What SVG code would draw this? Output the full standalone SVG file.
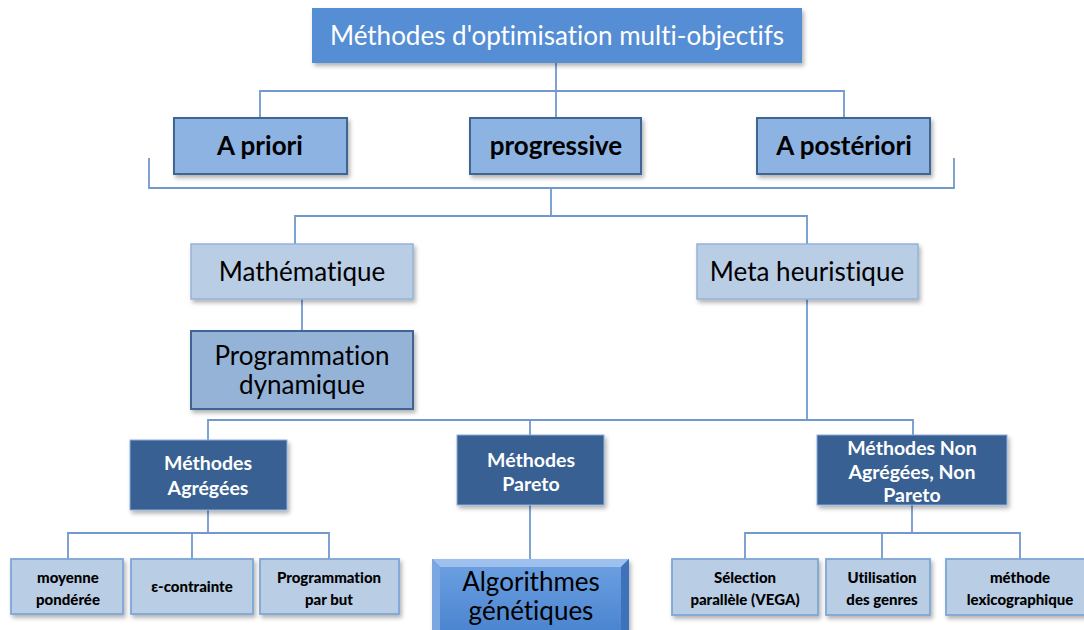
<svg xmlns="http://www.w3.org/2000/svg" width="1084" height="630" viewBox="0 0 1084 630">
<style>
  text { font-family: "Lato", "Liberation Sans", sans-serif; text-anchor: middle; font-variant-ligatures: none; }
  .conn { fill: none; stroke: #7199CD; stroke-width: 1.8; }
  .top { fill: #558ED5; filter: url(#sh); }
  .lvl2 { fill: #8DB3E2; stroke: #3F6595; stroke-width: 2; filter: url(#sh); }
  .light { fill: #B9CDE5; stroke: #95B3D7; stroke-width: 1.5; filter: url(#sh); }
  .prog { fill: #95B3D7; stroke: #3F6595; stroke-width: 2; filter: url(#sh); }
  .dark { fill: #376092; stroke: #8EAEDB; stroke-width: 1; filter: url(#sh); }
  .leaf { fill: #B9CDE5; stroke: #7EA6D8; stroke-width: 1.8; filter: url(#sh); }
  .t-title { fill: #FFFFFF; font-size: 26px; }
  .t-l2 { fill: #000000; font-size: 26px; font-weight: bold; }
  .t-m { fill: #000000; font-size: 26px; }
  .t-w { fill: #FFFFFF; font-size: 19.5px; font-weight: bold; }
  .t-s { fill: #000000; font-size: 15px; font-weight: 900; }
  .t-ag { fill: #000000; font-size: 26px; }
</style>
<defs>
  <filter id="sh" x="-10%" y="-20%" width="125%" height="150%">
    <feDropShadow dx="2" dy="3" stdDeviation="2" flood-color="#000" flood-opacity="0.3"/>
  </filter>
  <linearGradient id="agGrad" x1="0" y1="0" x2="0" y2="1">
    <stop offset="0" stop-color="#6A9EE0"/>
    <stop offset="1" stop-color="#4A84CF"/>
  </linearGradient>
</defs>
<rect width="1084" height="630" fill="#FFFFFF"/>

<g id="connectors">
  <path class="conn" d="M556,63 V118"/>
  <path class="conn" d="M260,118 V91 H844 V118"/>
  <path class="conn" d="M149,158 V188 H954 V158"/>
  <path class="conn" d="M551,188 V216"/>
  <path class="conn" d="M295,244 V216 H807 V244"/>
  <path class="conn" d="M302,299 V331"/>
  <path class="conn" d="M807,299 V420"/>
  <path class="conn" d="M208,440 V420 H913 V435"/>
  <path class="conn" d="M530,420 V435"/>
  <path class="conn" d="M530,505 V560"/>
  <path class="conn" d="M208,510 V533"/>
  <path class="conn" d="M68,559 V533 H329 V559"/>
  <path class="conn" d="M192,533 V559"/>
  <path class="conn" d="M912,505 V533"/>
  <path class="conn" d="M745,559 V533 H1020 V559"/>
  <path class="conn" d="M882,533 V559"/>
</g>

<g id="n-root">
  <rect class="top" x="312" y="8" width="490" height="55"/>
  <text class="t-title" x="557" y="45">Méthodes d'optimisation multi-objectifs</text>
</g>
<g id="n-apriori">
  <rect class="lvl2" x="174" y="118" width="173" height="56"/>
  <text class="t-l2" x="260" y="155">A priori</text>
</g>
<g id="n-progressive">
  <rect class="lvl2" x="470" y="118" width="171" height="56"/>
  <text class="t-l2" x="556" y="155">progressive</text>
</g>
<g id="n-aposteriori">
  <rect class="lvl2" x="757" y="118" width="173" height="56"/>
  <text class="t-l2" x="844" y="155">A postériori</text>
</g>
<g id="n-math">
  <rect class="light" x="191" y="244" width="222" height="55"/>
  <text class="t-m" x="302" y="281">Mathématique</text>
</g>
<g id="n-meta">
  <rect class="light" x="697" y="244" width="221" height="55"/>
  <text class="t-m" x="807" y="281">Meta heuristique</text>
</g>
<g id="n-progdyn">
  <rect class="prog" x="191" y="331" width="222" height="78"/>
  <text class="t-m" x="302" y="365">Programmation</text>
  <text class="t-m" x="302" y="394">dynamique</text>
</g>
<g id="n-agg">
  <rect class="dark" x="130" y="440" width="157" height="70"/>
  <text class="t-w" x="208" y="470">Méthodes</text>
  <text class="t-w" x="208" y="495">Agrégées</text>
</g>
<g id="n-pareto">
  <rect class="dark" x="457" y="435" width="147" height="70"/>
  <text class="t-w" x="531" y="467">Méthodes</text>
  <text class="t-w" x="531" y="491">Pareto</text>
</g>
<g id="n-nonagg">
  <rect class="dark" x="817" y="435" width="190" height="70"/>
  <text class="t-w" x="912" y="455">Méthodes Non</text>
  <text class="t-w" x="912" y="479">Agrégées, Non</text>
  <text class="t-w" x="912" y="502">Pareto</text>
</g>
<g id="n-ag">
  <rect x="432" y="559" width="197" height="75" fill="#4F86D0" filter="url(#sh)"/>
  <polygon points="432,559 629,559 621,567 440,567" fill="#9DC0EE"/>
  <polygon points="432,559 440,567 440,634 432,634" fill="#7AA6E2"/>
  <polygon points="629,559 621,567 621,634 629,634" fill="#3E72BA"/>
  <rect x="440" y="567" width="181" height="67" fill="url(#agGrad)"/>
  <text class="t-ag" x="531" y="591">Algorithmes</text>
  <text class="t-ag" x="531" y="620">génétiques</text>
</g>
<g id="n-moyenne">
  <rect class="leaf" x="11" y="559" width="112" height="55"/>
  <text class="t-s" x="68" y="583">moyenne</text>
  <text class="t-s" x="68" y="605">pondérée</text>
</g>
<g id="n-epsilon">
  <rect class="leaf" x="131" y="559" width="122" height="55"/>
  <text class="t-s" x="192" y="592">ε-contrainte</text>
</g>
<g id="n-progbut">
  <rect class="leaf" x="260" y="559" width="139" height="55"/>
  <text class="t-s" x="329" y="583">Programmation</text>
  <text class="t-s" x="329" y="605">par but</text>
</g>
<g id="n-vega">
  <rect class="leaf" x="672" y="559" width="146" height="56"/>
  <text class="t-s" x="745" y="583">Sélection</text>
  <text class="t-s" x="745" y="605">parallèle (VEGA)</text>
</g>
<g id="n-genres">
  <rect class="leaf" x="826" y="559" width="104" height="56"/>
  <text class="t-s" x="882" y="583">Utilisation</text>
  <text class="t-s" x="882" y="605">des genres</text>
</g>
<g id="n-lexico">
  <rect class="leaf" x="946" y="559" width="148" height="56"/>
  <text class="t-s" x="1020" y="583">méthode</text>
  <text class="t-s" x="1020" y="605">lexicographique</text>
</g>
</svg>
